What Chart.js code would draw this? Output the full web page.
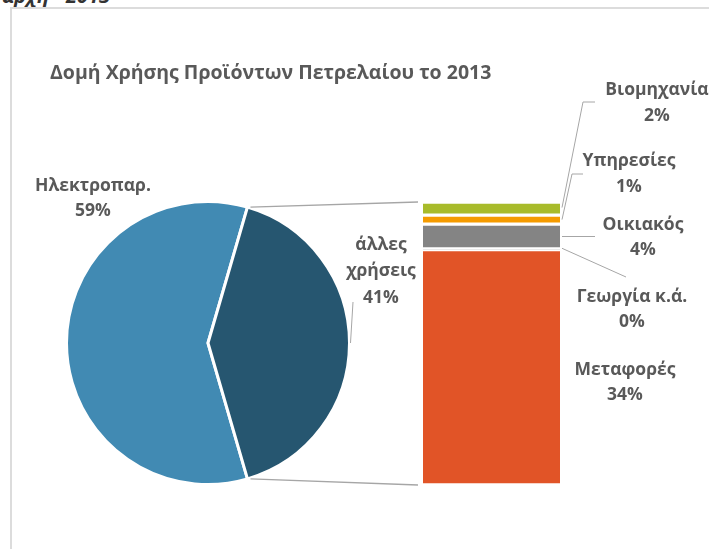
<!DOCTYPE html>
<html><head><meta charset="utf-8">
<script src="https://cdn.jsdelivr.net/npm/chart.js@4/dist/chart.umd.min.js"></script>
<style>
body{margin:0;background:#fff;}
#wrap{position:relative;width:709px;height:549px;overflow:hidden;background:#fff;}
#frame{position:absolute;left:10px;top:7px;width:800px;height:700px;border:2px solid #dcdcdc;box-sizing:border-box;}
#head{position:absolute;left:2px;top:-18px;font:italic bold 20px 'Open Sans',sans-serif;color:#333;white-space:nowrap;}
canvas{position:absolute;left:0;top:0;}
</style></head>
<body><div id="wrap"><div id="head">αρχή - 2013</div><div id="frame"></div>
<canvas id="pie" width="709" height="549"></canvas>
<canvas id="bar" width="709" height="549"></canvas></div>
<script>
const chartTitle = 'Δομή Χρήσης Προϊόντων Πετρελαίου το 2013';
const pieLabels = ['Ηλεκτροπαρ.', 'άλλες χρήσεις'];
const pieValues = [59, 41];
const pieColors = ['#418AB3', '#265670'];
const barLabels = ['Μεταφορές', 'Γεωργία κ.ά.', 'Οικιακός', 'Υπηρεσίες', 'Βιομηχανία'];
const barValues = [34.1, 0.1, 3.6, 1.3, 1.9];
const barColors = ['#E15427', '#9A9A9A', '#848484', '#F59B00', '#A8BB2A'];

const TXT = '#595959', LINE = '#A6A6A6';
const FONT = 'bold 17.5px "Open Sans", sans-serif';
const TFONT = 'bold 19.5px "Open Sans", sans-serif';
const pieTotal = pieValues.reduce((a, b) => a + b, 0);
const barTotal = barValues.reduce((a, b) => a + b, 0);

const pie = new Chart(document.getElementById('pie'), {
  type: 'pie',
  data: { labels: pieLabels, datasets: [{ data: pieValues, backgroundColor: pieColors, borderColor: '#fff', borderWidth: 3, radius: 141.5 }] },
  options: {
    responsive: false, animation: false, events: [],
    rotation: 90 + 180 * pieValues[1] / pieTotal,
    layout: { padding: { left: 68, right: 361, top: 203, bottom: 66 } },
    plugins: { legend: { display: false }, tooltip: { enabled: false } }
  }
});

function lines(ctx, arr, x, y, lh) {
  arr.forEach((t, i) => ctx.fillText(t, x, y + i * lh));
}
function seg(ctx, pts) {
  ctx.beginPath(); ctx.moveTo(pts[0][0], pts[0][1]);
  for (let i = 1; i < pts.length; i++) ctx.lineTo(pts[i][0], pts[i][1]);
  ctx.stroke();
}

const overlay = {
  id: 'overlay',
  afterDraw(chart) {
    const ctx = chart.ctx;
    ctx.save();
    ctx.fillStyle = TXT; ctx.font = TFONT;
    ctx.textAlign = 'left'; ctx.textBaseline = 'middle';
    ctx.fillText(chartTitle, 50, 73);
    ctx.font = FONT;

    const arc = pie.getDatasetMeta(0).data[1];
    const cx = arc.x, cy = arc.y, r = arc.outerRadius;
    const sA = arc.startAngle, eA = arc.endAngle;
    const top = chart.getDatasetMeta(barValues.length - 1).data[0];
    const bot = chart.getDatasetMeta(0).data[0];
    const bl = top.x - top.width / 2, br = top.x + top.width / 2;

    ctx.strokeStyle = LINE; ctx.lineWidth = 1.3;
    seg(ctx, [[cx + r * Math.cos(sA) + 3, cy + r * Math.sin(sA)], [bl - 5, top.y]]);
    seg(ctx, [[cx + r * Math.cos(eA) + 3, cy + r * Math.sin(eA)], [bl - 5, bot.base]]);

    ctx.lineWidth = 1;
    const mid = i => { const e = chart.getDatasetMeta(i).data[0]; return (e.y + e.base) / 2; };
    seg(ctx, [[br + 2, mid(4) - 1], [583, 102], [595, 102]]);
    seg(ctx, [[br + 2, mid(3)], [572, 174], [583, 174]]);
    seg(ctx, [[br + 2, mid(2)], [595, mid(2)]]);
    seg(ctx, [[br + 2, mid(1) - 1], [626, 277]]);
    seg(ctx, [[cx + r + 1, cy], [353, 302]]);

    ctx.textAlign = 'center';
    const pct = v => Math.round(v) + '%';
    lines(ctx, ['Ηλεκτροπαρ.', pct(pieValues[0] / pieTotal * 100)], 93, 186, 25.5);
    lines(ctx, ['άλλες', 'χρήσεις', pct(pieValues[1] / pieTotal * 100)], 381, 245, 26.5);
    lines(ctx, [barLabels[4], pct(barValues[4])], 657, 90, 26);
    lines(ctx, [barLabels[3], pct(barValues[3])], 629, 161, 26);
    lines(ctx, [barLabels[2], pct(barValues[2])], 643, 225, 25);
    lines(ctx, [barLabels[1], pct(barValues[1])], 632, 297, 25);
    lines(ctx, [barLabels[0], pct(barValues[0])], 625, 370, 25);
    ctx.restore();
  }
};

new Chart(document.getElementById('bar'), {
  type: 'bar',
  data: {
    labels: [''],
    datasets: barLabels.map((l, i) => ({
      label: l, data: [barValues[i]], backgroundColor: barColors[i],
      borderColor: '#fff', borderWidth: { top: 2, bottom: 2, left: 0, right: 0 }, borderSkipped: false,
      barPercentage: 1, categoryPercentage: 1
    }))
  },
  options: {
    responsive: false, animation: false, events: [],
    layout: { padding: { left: 423, right: 149, top: 202, bottom: 64 } },
    scales: { x: { display: false, stacked: true }, y: { display: false, stacked: true, min: 0, max: barTotal } },
    plugins: { legend: { display: false }, tooltip: { enabled: false } }
  },
  plugins: [overlay]
});
</script></body></html>
